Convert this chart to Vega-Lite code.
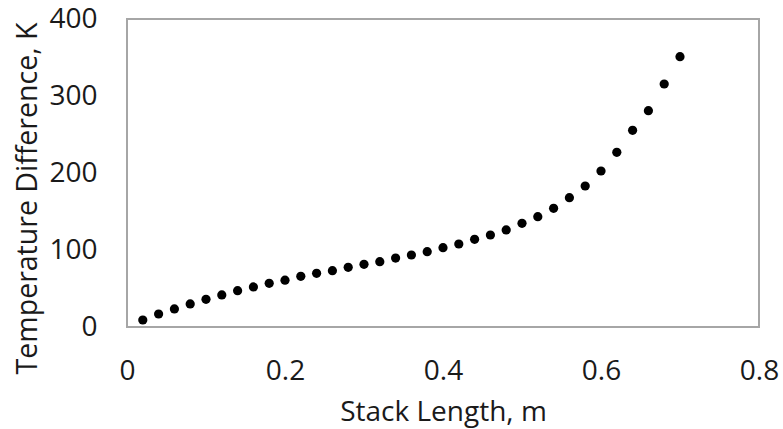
{
  "$schema": "https://vega.github.io/schema/vega-lite/v6.json",
  "width": 632,
  "height": 308,
  "autosize": {"type": "none"},
  "padding": {"left": 127, "top": 19, "right": 24, "bottom": 102},
  "background": "white",
  "config": {
    "view": {"stroke": "#a6a6a6", "strokeWidth": 2},
    "font": "Open Sans"
  },
  "data": {
    "values": [
      {"length": 0.02, "dT": 9.1},
      {"length": 0.04, "dT": 16.9},
      {"length": 0.06, "dT": 23.4},
      {"length": 0.08, "dT": 29.9},
      {"length": 0.10, "dT": 36.0},
      {"length": 0.12, "dT": 41.6},
      {"length": 0.14, "dT": 47.2},
      {"length": 0.16, "dT": 52.0},
      {"length": 0.18, "dT": 56.7},
      {"length": 0.20, "dT": 60.8},
      {"length": 0.22, "dT": 65.8},
      {"length": 0.24, "dT": 69.7},
      {"length": 0.26, "dT": 73.2},
      {"length": 0.28, "dT": 77.5},
      {"length": 0.30, "dT": 81.4},
      {"length": 0.32, "dT": 84.8},
      {"length": 0.34, "dT": 89.5},
      {"length": 0.36, "dT": 93.5},
      {"length": 0.38, "dT": 97.8},
      {"length": 0.40, "dT": 103.0},
      {"length": 0.42, "dT": 107.8},
      {"length": 0.44, "dT": 113.9},
      {"length": 0.46, "dT": 119.5},
      {"length": 0.48, "dT": 126.0},
      {"length": 0.50, "dT": 134.7},
      {"length": 0.52, "dT": 143.3},
      {"length": 0.54, "dT": 154.2},
      {"length": 0.56, "dT": 168.0},
      {"length": 0.58, "dT": 183.1},
      {"length": 0.60, "dT": 202.6},
      {"length": 0.62, "dT": 226.9},
      {"length": 0.64, "dT": 255.5},
      {"length": 0.66, "dT": 280.9},
      {"length": 0.68, "dT": 315.6},
      {"length": 0.70, "dT": 351.0}
    ]
  },
  "mark": {"type": "circle", "size": 85, "color": "black", "opacity": 1},
  "encoding": {
    "x": {
      "field": "length",
      "type": "quantitative",
      "scale": {"domain": [0, 0.8], "nice": false, "zero": false},
      "axis": {
        "title": "Stack Length, m",
        "values": [0, 0.2, 0.4, 0.6, 0.8],
        "format": "~g",
        "grid": false,
        "domain": false,
        "ticks": false,
        "labelPadding": 30,
        "labelFontSize": 28,
        "labelColor": "#1a1a1a",
        "labelFlush": false,
        "titleFontSize": 28,
        "titleFontWeight": "normal",
        "titleColor": "#1a1a1a",
        "titleY": 85,
        "titleBaseline": "middle"
      }
    },
    "y": {
      "field": "dT",
      "type": "quantitative",
      "scale": {"domain": [0, 400], "nice": false},
      "axis": {
        "title": "Temperature Difference, K",
        "values": [0, 100, 200, 300, 400],
        "grid": false,
        "domain": false,
        "ticks": false,
        "labelPadding": 30,
        "labelFontSize": 28,
        "labelColor": "#1a1a1a",
        "labelFlush": false,
        "titleFontSize": 28.5,
        "titleFontWeight": "normal",
        "titleColor": "#1a1a1a",
        "titleX": -100,
        "titleY": 179,
        "titleAngle": -90,
        "titleAlign": "center",
        "titleBaseline": "middle"
      }
    }
  }
}
